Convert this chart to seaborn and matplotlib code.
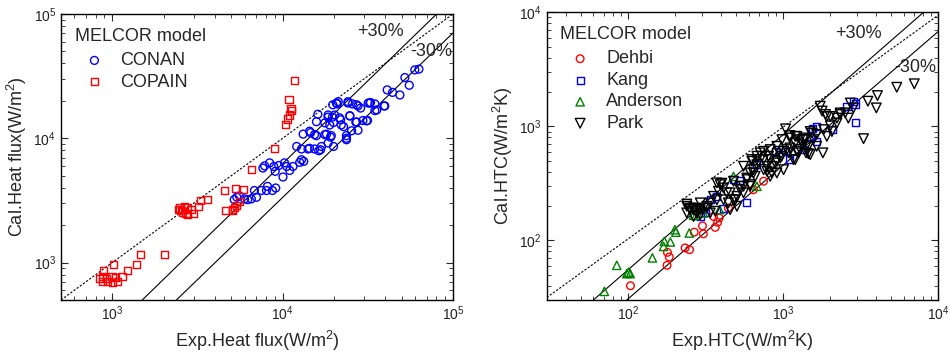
import matplotlib
matplotlib.use("Agg")
import matplotlib.pyplot as plt
import pandas as pd
import seaborn as sns

# --- left panel: heat flux ---
conan_x = [5200, 5380, 5580, 5980, 6240, 6550, 7020, 6830, 7500, 8040,
           8150, 8710, 9110, 7660, 7840, 8390, 8880, 9050, 9490, 10050,
           10260, 10570, 11000, 11500, 12100, 12600, 12900, 13300, 13200, 12900,
           14100, 15400, 14400, 15400, 16300, 16900, 17700, 18500, 19100, 19900,
           15800, 16100, 18500, 19600, 18900, 19900, 20200, 19700, 20900, 21200,
           21900, 22800, 23700, 23700, 24200, 25700, 24800, 25400, 26900, 27700,
           28700, 29600, 31500, 31800, 32800, 34800, 34800, 39400, 41100, 44200,
           48800, 52200, 55400, 59700, 63100,
           15800, 18100, 19300, 14600, 18500, 21600, 17700, 22100, 24800, 27200, 27700,
           20700, 24200, 27200, 32500, 35700, 39800, 31100, 23700, 16700, 14400]
conan_y = [3210, 3360, 3440, 3250, 3210, 3250, 3350, 3800, 3800, 3800,
           4100, 3800, 3980, 5760, 6000, 6340, 5930, 5420, 6040, 4880,
           6340, 5930, 5510, 5930, 8590, 6400, 6720, 6520, 10800, 8200,
           8200, 8200, 11400, 10700, 7940, 8590, 10700, 9160, 10200, 8590,
           13600, 15600, 14800, 14800, 12800, 13400, 15400, 18600, 18900, 19700,
           14100, 12400, 10500, 9730, 19200, 18900, 15200, 11500, 13500, 18200,
           17500, 13900, 13900, 19200, 19400, 18900, 16700, 18200, 24500, 23400,
           22300, 30800, 26700, 35500, 36000,
           10500, 10800, 10500, 11100, 15400, 14600, 13300, 12800, 15100, 13500, 11600,
           19200, 19700, 18600, 19200, 16900, 18200, 13800, 10000, 8090, 8300]

copain_x = [11800, 10900, 11200, 11300, 11000, 10700, 10400, 8980, 6550, 4580,
            5290, 5870, 4600, 5100, 5200, 5350, 5580, 5050, 3640, 3290,
            3210, 2900, 3010, 2710, 2480, 2660, 2780, 2560, 2440, 2600,
            2780, 2020, 1460, 1380, 1230, 1020, 890, 877, 877, 925,
            996, 1050, 1004, 1074, 1140, 935, 839]
copain_y = [29000, 20400, 17500, 16600, 15400, 14300, 12800, 8240, 5590, 3790,
            3930, 3860, 2630, 2690, 2780, 2870, 3100, 2630, 3210, 3170,
            2830, 2690, 2500, 2500, 2750, 2820, 2750, 2630, 2670, 2550,
            2440, 1160, 1160, 964, 867, 964, 867, 776, 708, 740,
            776, 754, 695, 708, 767, 708, 740]

# reference lines (x pairs, y pairs)
hf_diag_x, hf_diag_y = [500, 100000], [500, 100000]
hf_upper_x, hf_upper_y = [1500, 80200], [500, 100000]
hf_lower_x, hf_lower_y = [2380, 100000], [500, 70300]

# --- right panel: HTC ---
dehbi_x = [104, 179, 185, 180, 234, 250, 268, 307, 303, 366, 379, 388, 357, 445, 750, 645]
dehbi_y = [40, 60.4, 71.5, 78.5, 85.8, 82.8, 118, 114, 134, 130, 144, 157, 162, 192, 330, 278]

kang_x = [2920, 2850, 2920, 2590, 2100, 1650, 1560, 1040, 890, 586, 414,
          340, 480, 524, 375, 679, 1110, 315, 293, 1500, 1350, 1650]
kang_y = [1090, 1640, 1570, 1480, 935, 730, 950, 606, 606, 213, 192,
          227, 341, 334, 243, 461, 510, 174, 162, 816, 625, 1000]

anderson_x = [70.6, 84.9, 98.5, 101, 103.5, 144, 170, 172, 188, 201, 204, 249, 265, 275, 480, 390, 679, 307]
anderson_y = [35.7, 60.4, 51.1, 52.5, 51.1, 70.2, 88.5, 98, 96.8, 124, 118, 116, 166, 165, 364, 186, 298, 174]

park_x = [7030, 5420, 4070, 4000, 3530, 3310, 2850, 1810, 2520, 2230, 2020, 2340, 1920, 1830,
          1500, 1650, 1460, 1390, 1230, 1290, 1200, 1500,
          1740, 1040, 1110, 1200, 1350, 1410, 1460, 1260, 1090, 980, 914, 849, 789, 849,
          714, 750, 679, 646, 615, 662, 586, 615, 557, 530, 505, 480, 445, 505, 435, 414,
          394, 375, 384, 357, 340, 323, 307, 293, 279, 265, 252, 240, 240, 265, 293, 340,
          375, 414, 457, 480, 557, 631, 679, 750, 828, 914, 985, 1010, 807,
          240, 404, 631, 733, 828, 789, 890, 961, 937, 1060, 1110, 1200, 1290, 1390, 1110,
          1230, 1350, 1410, 1170, 646, 586, 530, 457, 679, 750, 828, 615, 557, 493, 293,
          265, 323, 366, 914, 1010,
          2230, 2020, 2340, 2640, 2720, 1790, 1880, 2070, 1920, 1570, 1650, 1540,
          252, 275, 289]
park_y = [2360, 2200, 1860, 1450, 1660, 779, 1450, 585, 1310, 1180, 1010, 1310, 1220, 935,
          900, 850, 665, 764, 816, 625, 510, 565,
          1500, 950, 830, 715, 765, 665, 575, 585, 585, 545, 493, 446, 403, 390,
          585, 511, 461, 417, 390, 364, 352, 308, 298, 278, 243, 227, 213, 199, 261, 288,
          308, 319, 269, 243, 213, 199, 192, 186, 174, 186, 192, 199, 174, 162, 168, 174,
          227, 227, 186, 330, 446, 511, 546, 604, 625, 668, 764, 604, 546,
          208, 317, 493, 546, 511, 446, 477, 528, 604, 625, 790, 816, 764, 790, 646,
          604, 690, 585, 511, 390, 341, 298, 261, 511, 417, 364, 298, 261, 227, 213,
          192, 192, 180, 390, 417,
          1070, 1220, 1270, 1180, 1600, 1360, 1270, 900, 816, 764, 668, 870,
          186, 180, 190]

htc_diag_x, htc_diag_y = [30, 10000], [31.5, 9400]
htc_upper_x, htc_upper_y = [60, 8070], [30, 10000]
htc_lower_x, htc_lower_y = [98.5, 10000], [30, 6760]


sns.set_style("ticks")
plt.rcParams["font.family"] = ["Liberation Sans", "DejaVu Sans"]
plt.rcParams["mathtext.fontset"] = "custom"
plt.rcParams["mathtext.rm"] = "Liberation Sans"
plt.rcParams["mathtext.it"] = "Liberation Sans:italic"
plt.rcParams["mathtext.bf"] = "Liberation Sans:bold"

fig = plt.figure(figsize=(9.5, 3.63), dpi=100)
ax1 = fig.add_axes([0.0642, 0.1736, 0.4126, 0.7879])
ax2 = fig.add_axes([0.5755, 0.1736, 0.4119, 0.7926])


def draw_refs(ax, diag, upper, lower):
    ax.plot(*diag, color="black", lw=0.8, ls=(0, (2, 1.5)), zorder=1)
    ax.plot(*upper, color="black", lw=0.8, zorder=1)
    ax.plot(*lower, color="black", lw=0.8, zorder=1)


def hollow(ax, x, y, marker, color, size, label):
    df = pd.DataFrame({"x": x, "y": y})
    sns.scatterplot(data=df, x="x", y="y", marker=marker, s=size, facecolor="none",
                    edgecolor=color, linewidth=1.0, label=label, ax=ax, zorder=3)


def style_axes(ax, lims, xlabel, ylabel):
    ax.set_xscale("log")
    ax.set_yscale("log")
    ax.set_xlim(*lims)
    ax.set_ylim(*lims)
    ax.set_xlabel(xlabel, fontsize=13, labelpad=4)
    ax.set_ylabel(ylabel, fontsize=13, labelpad=3)
    ax.tick_params(which="both", direction="in", top=True, right=True, labelsize=10,
                   labelcolor="#222222")
    ax.tick_params(which="major", length=5, width=0.8)
    ax.tick_params(which="minor", length=3, width=0.6)
    for sp in ax.spines.values():
        sp.set_linewidth(1.0)
        sp.set_color("black")


def make_legend(ax):
    leg = ax.legend(title="MELCOR model", loc="upper left", frameon=False, fontsize=13,
                    title_fontsize=13, alignment="left", handletextpad=0.35,
                    labelspacing=0.25, borderaxespad=0.45, handlelength=2.2,
                    borderpad=0.3)
    # a little more room between the title and the first entry
    leg._legend_box.sep = 5.5
    return leg


# left panel
draw_refs(ax1, (hf_diag_x, hf_diag_y), (hf_upper_x, hf_upper_y), (hf_lower_x, hf_lower_y))
hollow(ax1, conan_x, conan_y, "o", "#0000ff", 32, "CONAN")
hollow(ax1, copain_x, copain_y, "s", "#ff0000", 26, "COPAIN")
style_axes(ax1, (500, 1e5), "Exp.Heat flux(W/m$^2$)", "Cal.Heat flux(W/m$^2$)")
make_legend(ax1)
ax1.text(0.755, 0.937, "+30%", transform=ax1.transAxes, fontsize=13, va="center")
ax1.text(0.892, 0.868, "-30%", transform=ax1.transAxes, fontsize=13, va="center")

# right panel
draw_refs(ax2, (htc_diag_x, htc_diag_y), (htc_upper_x, htc_upper_y), (htc_lower_x, htc_lower_y))
hollow(ax2, dehbi_x, dehbi_y, "o", "#ff0000", 30, "Dehbi")
hollow(ax2, kang_x, kang_y, "s", "#0000ff", 26, "Kang")
hollow(ax2, anderson_x, anderson_y, "^", "#008000", 36, "Anderson")
hollow(ax2, park_x, park_y, "v", "black", 48, "Park")
style_axes(ax2, (30, 1e4), "Exp.HTC(W/m$^2$K)", "Cal.HTC(W/m$^2$K)")
make_legend(ax2)
ax2.text(0.737, 0.927, "+30%", transform=ax2.transAxes, fontsize=13, va="center")
ax2.text(0.888, 0.807, "-30%", transform=ax2.transAxes, fontsize=13, va="center")

fig.savefig("out.png", dpi=100)
